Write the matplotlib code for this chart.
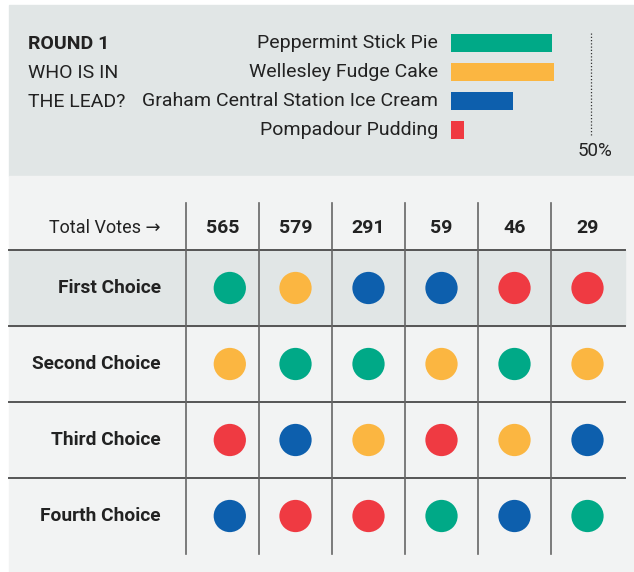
import matplotlib
matplotlib.use("Agg")
import matplotlib.pyplot as plt
from matplotlib.patches import Rectangle

plt.rcParams['font.family'] = ['Roboto', 'DejaVu Sans']

# ---- data ----
contenders = ["Peppermint Stick Pie", "Wellesley Fudge Cake",
              "Graham Central Station Ice Cream", "Pompadour Pudding"]
contender_colors = ["#00a987", "#fbb641", "#0d5fad", "#ef3a42"]
share_pct = [36.0, 36.9, 22.3, 4.8]
scale_max_label = "50%"
total_votes = [565, 579, 291, 59, 46, 29]
choice_labels = ["First Choice", "Second Choice", "Third Choice", "Fourth Choice"]
# ballot rankings per column: contender index for first..fourth choice
rankings = [
    [0, 1, 3, 2],
    [1, 0, 2, 3],
    [2, 0, 1, 3],
    [2, 1, 3, 0],
    [3, 0, 1, 2],
    [3, 1, 2, 0],
]

W, H = 634, 572
fig = plt.figure(figsize=(W / 100, H / 100), dpi=100)
base = fig.add_axes([0, 0, 1, 1])
base.set_xlim(0, W)
base.set_ylim(H, 0)
base.axis('off')

TXT = "#222222"
TOP_BG = "#e1e6e6"
LOW_BG = "#f2f3f3"
LINE = "#666666"

# backgrounds
base.add_patch(Rectangle((9, 5), W - 9, 171, color=TOP_BG, zorder=0))
base.add_patch(Rectangle((9, 176), W - 9, H - 176, color=LOW_BG, zorder=0))

# title text
base.text(28, 44, "ROUND 1", fontsize=14, fontweight='bold', color=TXT, va='center', ha='left')
base.text(28, 73, "WHO IS IN", fontsize=14, color=TXT, va='center', ha='left')
base.text(28, 102, "THE LEAD?", fontsize=14, color=TXT, va='center', ha='left')

# bar chart axes: x from 451px (0%) to 591px (50%)
bx0, bx1 = 451, 591
by0, by1 = 28, 145
bar_ax = fig.add_axes([bx0 / W, 1 - by1 / H, (bx1 - bx0) / W, (by1 - by0) / H])
bar_ax.set_xlim(0, 50)
bar_ax.set_ylim(3.5, -0.5)
bar_ax.axis('off')
ypos = list(range(len(contenders)))
bar_ax.barh(ypos, share_pct, height=0.62, color=contender_colors, zorder=2)
for y, name in zip(ypos, contenders):
    bar_ax.text(-4.6, y, name, ha='right', va='center', fontsize=14, color=TXT)
bar_ax.plot([50, 50], [-0.33, 3.2], ls=(0, (1, 1.6)), color="#333333", lw=0.9, clip_on=False)
bar_ax.text(51.4, 3.72, scale_max_label, ha='center', va='center', fontsize=13.5, color=TXT, clip_on=False)

# table
col_x0, col_w = 186, 73
ncol = len(total_votes)
row_top, row_h = 250, 76
head_top = 203
table_right = 625

# highlight first-choice row
base.add_patch(Rectangle((9, row_top), table_right - 9, row_h, color=TOP_BG, zorder=1))

# header
base.text(161, 228, "Total Votes \u2192", ha='right', va='center', fontsize=13, color=TXT)
for i, v in enumerate(total_votes):
    base.text(col_x0 + (i + 0.5) * col_w, 228, str(v), ha='center', va='center',
              fontsize=14, fontweight='bold', color=TXT)

# lines
nrows = len(choice_labels)
for r in range(nrows):
    yline = row_top + r * row_h
    base.plot([9, table_right], [yline, yline], color="#555555", lw=1.4, zorder=2)
for i in range(ncol):
    xl = col_x0 + i * col_w
    base.plot([xl, xl], [head_top, row_top + nrows * row_h], color=LINE, lw=1.2, zorder=2)

# row labels
for r, lab in enumerate(choice_labels):
    base.text(161, row_top + (r + 0.5) * row_h, lab, ha='right', va='center',
              fontsize=13.8, fontweight='bold', color=TXT)

# dots axes
dot_ax = fig.add_axes([col_x0 / W, 1 - (row_top + nrows * row_h) / H,
                       ncol * col_w / W, nrows * row_h / H])
dot_ax.set_xlim(-0.5, ncol - 0.5)
dot_ax.set_ylim(nrows - 0.5, -0.5)
dot_ax.axis('off')
xs, ys, cs = [], [], []
for c, order in enumerate(rankings):
    for r, who in enumerate(order):
        xs.append(c + (0.1 if c == 0 else 0.0))
        ys.append(r)
        cs.append(contender_colors[who])
dot_ax.scatter(xs, ys, s=540, c=cs, linewidths=0, zorder=3)

fig.savefig("out.png", dpi=100)
